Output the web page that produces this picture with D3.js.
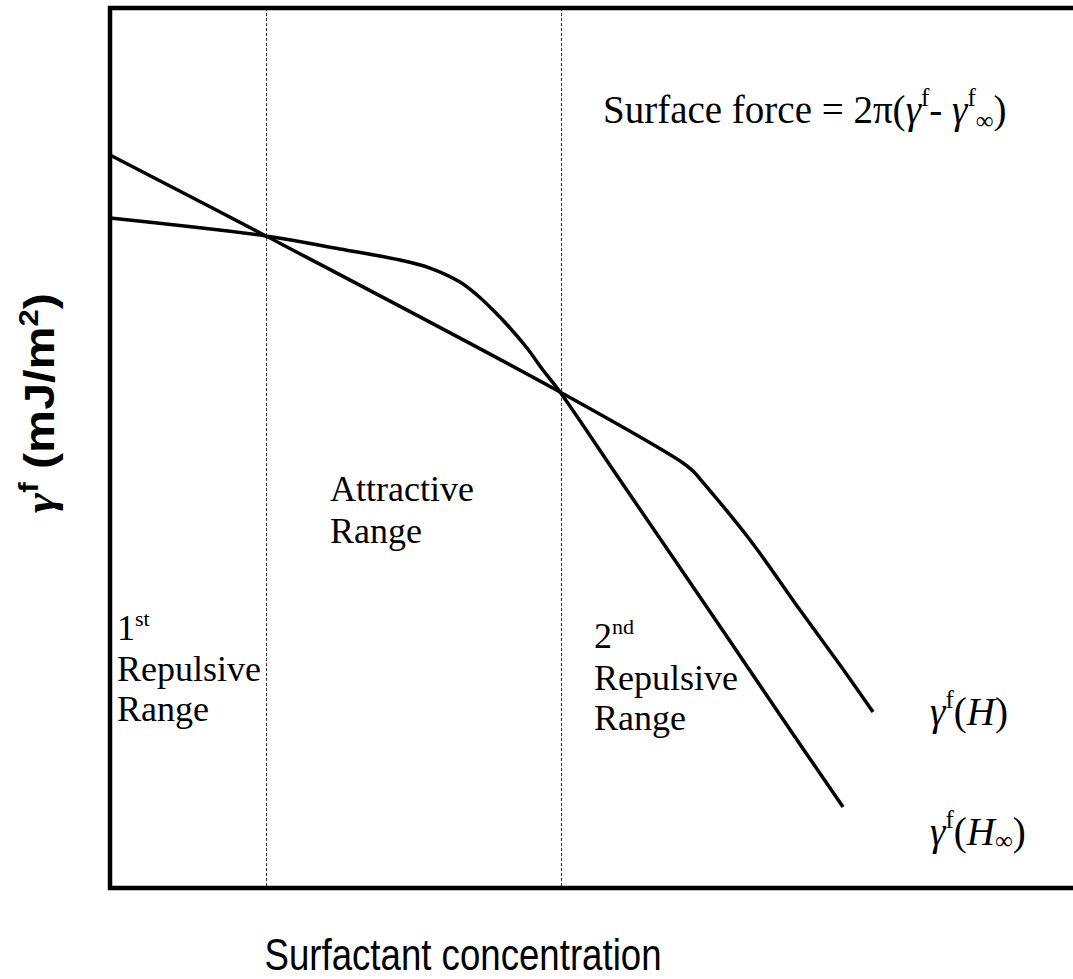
<!DOCTYPE html>
<html>
<head>
<meta charset="utf-8">
<script src="https://cdn.jsdelivr.net/npm/d3@7"></script>
<style>
  html, body { margin: 0; padding: 0; background: #fff; }
  svg { display: block; }
</style>
</head>
<body>
<svg id="chart" width="1073" height="979"></svg>
<script>
// ---- data (arbitrary units: concentration 0-10, gamma^f 0-10) ----
const curveH_x    = [0, 1.592, 4.592, 5.847, 5.949, 6.031, 6.531, 7.041, 7.449, 7.786];
const curveH_y    = [8.33, 7.409, 5.636, 4.830, 4.739, 4.636, 3.955, 3.159, 2.534, 2.0];
const curveHinf_x = [0, 1.592, 2.347, 2.959, 3.265, 3.571, 3.745, 3.908, 4.082, 4.255, 4.418, 4.592, 5.204, 6.020, 6.837, 7.480];
const curveHinf_y = [7.614, 7.409, 7.261, 7.136, 7.045, 6.886, 6.739, 6.568, 6.364, 6.136, 5.886, 5.636, 4.636, 3.307, 1.966, 0.920];
const rangeBounds = [1.59, 4.60];
const xDomain = [0, 10];
const yDomain = [0, 10];

const svg = d3.select("#chart");
const x = d3.scaleLinear().domain(xDomain).range([110, 1090]);
const y = d3.scaleLinear().domain(yDomain).range([888, 8]);

// dotted range boundaries
svg.selectAll("line.bound").data(rangeBounds).enter().append("line")
  .attr("class", "bound")
  .attr("x1", d => Math.round(x(d)) + 0.5).attr("x2", d => Math.round(x(d)) + 0.5)
  .attr("y1", y(10)).attr("y2", y(0))
  .attr("stroke", "#333").attr("stroke-width", 1).attr("stroke-dasharray", "3,2");

// curves
const line = d3.line().x(d => x(d[0])).y(d => y(d[1])).curve(d3.curveCatmullRom.alpha(0.5));
const series = [
  d3.zip(curveH_x, curveH_y),
  d3.zip(curveHinf_x, curveHinf_y)
];
svg.selectAll("path.curve").data(series).enter().append("path")
  .attr("class", "curve")
  .attr("d", line)
  .attr("fill", "none").attr("stroke", "#000").attr("stroke-width", 3.5)
  .attr("stroke-linejoin", "round");

// frame (left, top, bottom; right edge beyond the picture)
svg.append("path")
  .attr("d", `M${x(10)},${y(10)} L${x(0)},${y(10)} L${x(0)},${y(0)} L${x(10)},${y(0)}`)
  .attr("fill", "none").attr("stroke", "#000").attr("stroke-width", 4.5)
  .attr("stroke-linejoin", "miter");

const serif = "'Liberation Serif', 'Times New Roman', serif";
const sans = "'Liberation Sans', Arial, sans-serif";

function multi(xp, yp, parts, size) {
  const t = svg.append("text").attr("x", xp).attr("y", yp)
    .attr("font-family", serif).attr("font-size", size).attr("fill", "#000");
  parts.forEach(p => {
    const ts = t.append("tspan").text(p.t);
    if (p.dy) ts.attr("dy", p.dy);
    if (p.s) ts.attr("font-size", p.s);
    if (p.i) ts.attr("font-style", "italic");
  });
  return t;
}

// region labels
function lines(xp, yps, texts) {
  texts.forEach((tx, i) => {
    svg.append("text").attr("x", xp).attr("y", yps[i])
      .attr("font-family", serif).attr("font-size", 36).attr("fill", "#000").text(tx);
  });
}
lines(330, [501, 543], ["Attractive", "Range"]);
multi(117, 640, [{t: "1"}, {t: "st", s: 22, dy: -14}], 36);
lines(117, [681, 721], ["Repulsive", "Range"]);
multi(594, 648, [{t: "2"}, {t: "nd", s: 22, dy: -14}], 36);
lines(594, [690, 730], ["Repulsive", "Range"]);

// formula
multi(603, 123, [
  {t: "Surface force = 2π("},
  {t: "γ", i: true},
  {t: "f", s: 25, dy: -17},
  {t: "- ", dy: 17},
  {t: "γ", i: true},
  {t: "f", s: 25, dy: -17},
  {t: "∞", s: 25, dy: 23},
  {t: ")", dy: -6}
], 39);

// series labels
multi(930, 725, [
  {t: "γ", i: true},
  {t: "f", s: 25, dy: -17},
  {t: "(", dy: 17},
  {t: "H", i: true},
  {t: ")"}
], 39);
multi(930, 845, [
  {t: "γ", i: true},
  {t: "f", s: 25, dy: -17},
  {t: "(", dy: 17},
  {t: "H", i: true},
  {t: "∞", s: 25, dy: 4},
  {t: ")", dy: -4}
], 39);

// axis titles
svg.append("text")
  .attr("x", 463).attr("y", 970)
  .attr("text-anchor", "middle")
  .attr("font-family", sans).attr("font-size", 44)
  .attr("textLength", 397).attr("lengthAdjust", "spacingAndGlyphs")
  .text("Surfactant concentration");

const yl = svg.append("text")
  .attr("transform", "translate(54,403) rotate(-90)")
  .attr("text-anchor", "middle")
  .attr("font-family", sans).attr("font-size", 42).attr("font-weight", "bold")
  .attr("textLength", 220).attr("lengthAdjust", "spacingAndGlyphs");
yl.append("tspan").text("γ").attr("font-family", serif).attr("font-style", "italic");
yl.append("tspan").text("f").attr("font-size", 27).attr("dy", -16);
yl.append("tspan").text("  (mJ/m").attr("dy", 16);
yl.append("tspan").text("2").attr("font-size", 27).attr("dy", -16);
yl.append("tspan").text(")").attr("dy", 16);
</script>
</body>
</html>
